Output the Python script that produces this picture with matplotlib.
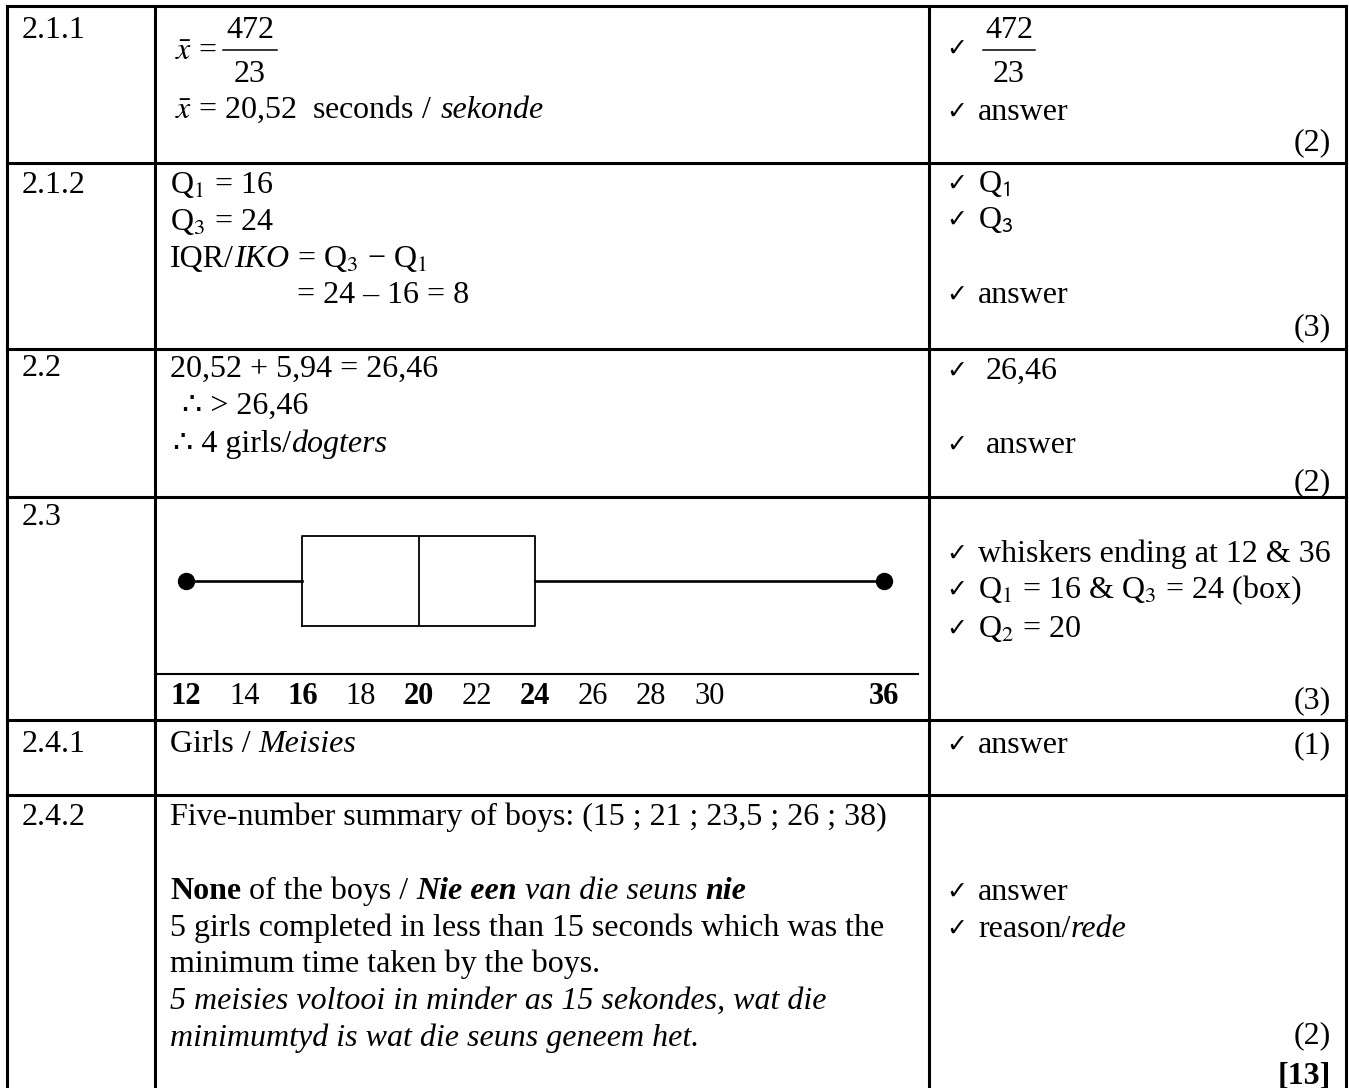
import matplotlib
matplotlib.use("Agg")
import matplotlib.pyplot as plt

plt.rcParams['font.family'] = ['Liberation Serif', 'DejaVu Sans']
plt.rcParams['mathtext.fontset'] = 'stix'

# ---- data -------------------------------------------------------------
question_nums = ['2.1.1', '2.1.2', '2.2', '2.3', '2.4.1', '2.4.2']
mark_allocs = ['(2)', '(3)', '(2)', '(3)', '(1)', '(2)']
total_marks = '[13]'

# girls' five-number summary (min, Q1, median, Q3, max)
five_num = [12, 16, 20, 24, 36]
tick_vals = [12, 14, 16, 18, 20, 22, 24, 26, 28, 30, 36]
bold_ticks = [12, 16, 20, 24, 36]

# ---- layout (pixels, origin top-left) ---------------------------------
W, H = 1349, 1088
col_x = [7, 155, 929, 1346]
row_y = [6, 163, 349, 497, 720, 795]
q_y = [28, 183, 366, 515, 742, 815]
mark_y = [140, 325, 480, 698, 743, 1033]
FS = 23          # ~32 px em
BASE = 10        # centre -> baseline offset
CHK_X, ANS_X = 946, 978
MID_X = 170

fig = plt.figure(figsize=(W / 100, H / 100), dpi=100)
ax = fig.add_axes([0, 0, 1, 1])
ax.set_xlim(0, W)
ax.set_ylim(H, 0)
ax.axis('off')
renderer = fig.canvas.get_renderer()

STYLES = {'r': {}, 'i': {'style': 'italic'}, 'b': {'weight': 'bold'},
          'bi': {'weight': 'bold', 'style': 'italic'}}


def text_w(s, fs=FS, **kw):
    t = ax.text(0, 0, s, fontsize=fs, **kw)
    w = t.get_window_extent(renderer).width
    t.remove()
    return w


def line(x, y, parts, fs=FS):
    # draw runs of differently styled text one after another on a baseline
    if isinstance(parts, str):
        parts = [(parts, 'r')]
    sp = text_w('n n', fs) - text_w('nn', fs)
    for txt, st in parts:
        lead = len(txt) - len(txt.lstrip(' '))
        trail = len(txt) - len(txt.rstrip(' '))
        core = txt.strip(' ')
        x += lead * sp
        if core:
            t = ax.text(x, y + BASE, core, fontsize=fs, ha='left', va='baseline',
                        **STYLES[st])
            x += t.get_window_extent(renderer).width
        x += trail * sp
    return x


def tick(y):
    ax.text(CHK_X, y + BASE - 1, '\u2713', fontsize=18, family='DejaVu Sans',
            weight='bold', ha='left', va='baseline')


def fraction(xc, y_top, y_bar, y_bot, half):
    ax.text(xc, y_top + BASE, '472', fontsize=FS, ha='center', va='baseline')
    ax.plot([xc - half, xc + half], [y_bar, y_bar], color='black', lw=1.1)
    ax.text(xc, y_bot + BASE, '23', fontsize=FS, ha='center', va='baseline')


# ---- grid ---------------------------------------------------------------
for yy in row_y:
    ax.plot([col_x[0], col_x[-1]], [yy, yy], color='black', lw=2.2,
            solid_capstyle='projecting')
for xx in col_x:
    ax.plot([xx, xx], [row_y[0], H], color='black', lw=2.2,
            solid_capstyle='projecting')

# ---- question numbers and marks ----------------------------------------
for q, yy in zip(question_nums, q_y):
    ax.text(22, yy + BASE, q, fontsize=FS, ha='left', va='baseline')
for m, yy in zip(mark_allocs, mark_y):
    ax.text(1331, yy + BASE, m, fontsize=FS, ha='right', va='baseline')
ax.text(1331, 1073 + BASE, total_marks, fontsize=FS, weight='bold',
        ha='right', va='baseline')

# ---- 2.1.1 --------------------------------------------------------------
line(175, 50, r'$\bar{x}$ =')
fraction(250, 28, 50, 72, 27)
line(175, 108, [(r'$\bar{x}$ = 20,52  seconds / ', 'r'), ('sekonde', 'i')])
tick(47)
fraction(1009, 28, 50, 72, 26)
tick(110)
line(ANS_X, 110, 'answer')

# ---- 2.1.2 --------------------------------------------------------------
line(MID_X, 183, 'Q$_1$ = 16')
line(MID_X, 220, 'Q$_3$ = 24')
line(MID_X, 257, [('IQR/', 'r'), ('IKO', 'i'), (' = Q$_3$ \u2212 Q$_1$', 'r')])
line(297, 293, '= 24 \u2013 16 = 8')
tick(182)
line(ANS_X, 182, r'Q$_\mathsf{1}$')
tick(218)
line(ANS_X, 218, r'Q$_\mathsf{3}$')
tick(293)
line(ANS_X, 293, 'answer')

# ---- 2.2 ----------------------------------------------------------------
line(MID_X, 367, '20,52 + 5,94 = 26,46')
line(182, 404, '\u2234 > 26,46')
line(173, 442, [('\u2234 4 girls/', 'r'), ('dogters', 'i')])
tick(369)
line(986, 369, '26,46')
tick(443)
line(986, 443, 'answer')

# ---- 2.3 box plot -------------------------------------------------------
bx_left, bx_right, bx_top, bx_bottom = 155, 918, 500, 674
bax = fig.add_axes([bx_left / W, 1 - bx_bottom / H,
                    (bx_right - bx_left) / W, (bx_bottom - bx_top) / H])
BOX_POS, BOX_H = 0.537, 0.517
stats = [dict(whislo=five_num[0], q1=five_num[1], med=five_num[2],
              q3=five_num[3], whishi=five_num[4], fliers=[])]
bax.bxp(stats, positions=[BOX_POS], widths=BOX_H, orientation='horizontal',
        showcaps=False, showfliers=False, manage_ticks=False,
        boxprops=dict(color='black', lw=1.3),
        whiskerprops=dict(color='black', lw=1.9),
        medianprops=dict(color='black', lw=1.3))
bax.plot([five_num[0], five_num[-1]], [BOX_POS, BOX_POS], 'o', color='black',
         ms=11.5, clip_on=False)
bax.set_xlim(10.934, 37.169)
bax.set_ylim(0, 1)
bax.set_facecolor('none')
for s in ['top', 'left', 'right']:
    bax.spines[s].set_visible(False)
bax.spines['bottom'].set_linewidth(1.5)
bax.set_yticks([])
bax.set_xticks(tick_vals)
bax.set_xticklabels([str(v) for v in tick_vals])
bax.tick_params(axis='x', length=0, pad=6, labelsize=22)
for lab, v in zip(bax.get_xticklabels(), tick_vals):
    if v in bold_ticks:
        lab.set_fontweight('bold')

tick(552)
line(ANS_X, 552, 'whiskers ending at 12 & 36')
tick(588)
line(ANS_X, 588, 'Q$_1$ = 16 & Q$_3$ = 24 (box)')
tick(627)
line(ANS_X, 627, 'Q$_2$ = 20')

# ---- 2.4.1 --------------------------------------------------------------
line(MID_X, 742, [('Girls / ', 'r'), ('Meisies', 'i')])
tick(743)
line(ANS_X, 743, 'answer')

# ---- 2.4.2 --------------------------------------------------------------
line(MID_X, 815, 'Five-number summary of boys: (15 ; 21 ; 23,5 ; 26 ; 38)')
line(MID_X, 889, [('None', 'b'), (' of the boys / ', 'r'), ('Nie een', 'bi'),
                  (' van die seuns ', 'i'), ('nie', 'bi')])
line(MID_X, 926, '5 girls completed in less than 15 seconds which was the')
line(MID_X, 962, 'minimum time taken by the boys.')
line(MID_X, 999, [('5 meisies voltooi in minder as 15 sekondes, wat die', 'i')])
line(MID_X, 1036, [('minimumtyd is wat die seuns geneem het.', 'i')])
tick(890)
line(ANS_X, 890, 'answer')
tick(927)
line(ANS_X, 927, [('reason/', 'r'), ('rede', 'i')])

fig.savefig('out.png', dpi=100, facecolor='white')
